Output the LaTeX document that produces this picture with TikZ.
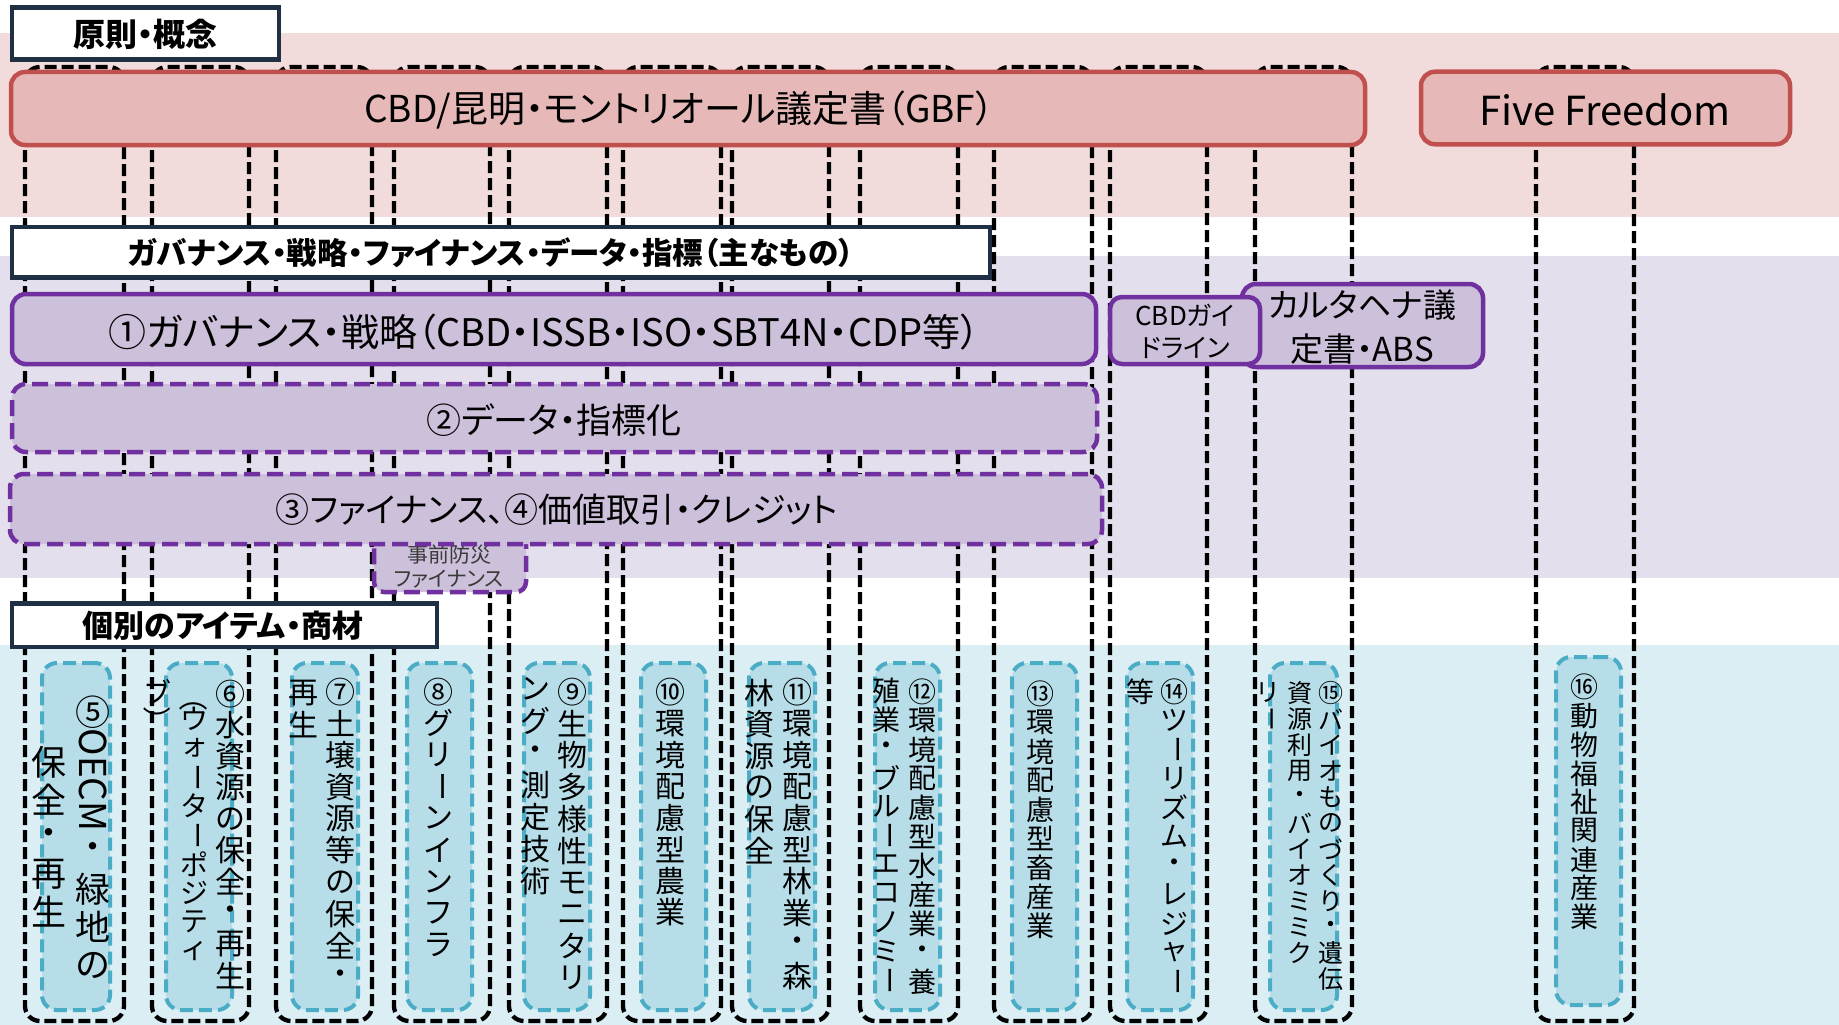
\documentclass[tikz,border=0pt]{standalone}
\usepackage{fontspec}
\usepackage{graphicx}
\setmainfont{Noto Sans CJK JP}[RawFeature=+palt]
\newfontfamily\vjp{Noto Sans CJK JP}
\XeTeXuseglyphmetrics=1
\definecolor{pinkbg}{HTML}{F2DCDB}
\definecolor{lavbg}{HTML}{E4DFEC}
\definecolor{bluebg}{HTML}{DAEEF3}
\definecolor{redline}{HTML}{C0504D}
\definecolor{redfill}{HTML}{E6B9B8}
\definecolor{purpline}{HTML}{7030A0}
\definecolor{purpfill}{HTML}{CCC0DA}
\definecolor{tealline}{HTML}{4BACC6}
\definecolor{tealfill}{HTML}{B7DEE8}
\definecolor{navy}{HTML}{1F3045}
\definecolor{darkgrey}{HTML}{3A3A3A}
\newcommand\VL{\rotatebox[origin=c]{-90}{ー}}
\newcommand\VLP{\rotatebox[origin=c]{-90}{（}}
\newcommand\VRP{\rotatebox[origin=c]{-90}{）}}
\newcommand\vtext[6]{%
  \foreach \ch [count=\k] in {#6}{%
    \node[vch, font=\vjp\fontsize{#5}{#5}\selectfont] (#1-\k) at (#2,{#3+(\k-0.5)*#4}) {\ch};
  }%
}
\tikzset{
  colframe/.style={draw=black, line width=4.3pt, dash pattern=on 12pt off 5pt, rounded corners=15pt},
  hdr/.style={draw=navy, line width=4.5pt, fill=white, inner sep=0pt},
  redbox/.style={draw=redline, line width=4.5pt, fill=redfill, rounded corners=14pt, inner sep=0pt},
  purbox/.style={draw=purpline, line width=4.5pt, fill=purpfill, rounded corners=14pt, inner sep=0pt},
  purdash/.style={purbox, dash pattern=on 16pt off 7pt},
  itembox/.style={draw=tealline, line width=4pt, fill=tealfill, rounded corners=15pt, dash pattern=on 13pt off 6pt, inner sep=0pt},
  lbl/.style={inner sep=0pt, text=black},
  vch/.style={inner sep=0pt, text=black, anchor=center},
}
\begin{document}
\begin{tikzpicture}[x=1pt,y=-1pt]
\useasboundingbox (0,0) rectangle (1839,1025);
\fill[white] (0,0) rectangle (1839,1025);
% background bands
\fill[pinkbg] (0,33) rectangle (1839,217);
\fill[lavbg] (0,256) rectangle (1839,578);
\fill[bluebg] (0,645) rectangle (1839,1025);
% column frames
\foreach \l/\r in {25/124,152/249,276/372,394/490,509/607,623/721,732/829,860/958,994/1092,1110/1207,1255/1352,1536/1634}
  \draw[colframe] (\l,67) rectangle (\r,1021);
% principle boxes
\node[hdr, minimum width=267pt, minimum height=52pt] (p0) at (145.5,33.5) {};
\node[lbl, font=\fontsize{32}{32}\selectfont\bfseries] (p0t) at (145.5,34) {原則・概念};
\node[redbox, minimum width=1354pt, minimum height=73pt] (cbd) at (688,108.5) {};
\node[lbl, font=\fontsize{37}{37}\selectfont] (cbdt) at (679,110) {CBD/昆明・モントリオール議定書（GBF）};
\node[redbox, minimum width=369pt, minimum height=72.5pt] (ff) at (1605.5,108) {};
\node[lbl, font=\fontsize{40}{40}\selectfont] (fft) at (1605,110) {Five Freedom};
% governance
\node[hdr, minimum width=978pt, minimum height=50.5pt] (h2) at (501,252) {};
\node[lbl, font=\fontsize{30.5}{30.5}\selectfont\bfseries] (h2t) at (491,253) {ガバナンス・戦略・ファイナンス・データ・指標（主なもの）};
\node[purbox, minimum width=1084pt, minimum height=70pt] (g1) at (554,329) {};
\node[lbl, font=\fontsize{38}{38}\selectfont] (g1t) at (544,332) {①ガバナンス・戦略（CBD・ISSB・ISO・SBT4N・CDP等）};
\node[purbox, minimum width=241pt, minimum height=83pt] (cart) at (1362.5,325.5) {};
\node[lbl, font=\fontsize{33}{44}\selectfont, align=center] (cartt) at (1362,327) {カルタヘナ議\\定書・ABS};
\node[purbox, rounded corners=12pt, minimum width=150pt, minimum height=67pt] (cgl) at (1185,330.5) {};
\node[lbl, font=\fontsize{26}{32}\selectfont, align=center] (cglt) at (1185,331) {CBDガイ\\ドライン};
\node[purdash, minimum width=1085pt, minimum height=68pt] (g2) at (554.5,418) {};
\node[lbl, font=\fontsize{35}{35}\selectfont] (g2t) at (554,420) {②データ・指標化};
\node[purdash, rounded corners=10pt, minimum width=152pt, minimum height=67pt] (jz) at (450,558.5) {};
\node[lbl, text=darkgrey, font=\fontsize{21}{24}\selectfont, align=center] (jzt) at (449,566) {事前防災\\ファイナンス};
\node[purdash, minimum width=1092pt, minimum height=70pt] (g3) at (556,509) {};
\node[lbl, font=\fontsize{34}{34}\selectfont] (g3t) at (557,510) {③ファイナンス、④価値取引・クレジット};
% items header
\node[hdr, minimum width=425pt, minimum height=43.5pt] (h3) at (224.5,625) {};
\node[lbl, font=\fontsize{31}{31}\selectfont\bfseries] (h3t) at (223,626) {個別のアイテム・商材};
% item boxes
\node[itembox, minimum width=68pt, minimum height=347pt] (i5) at (76,836.5) {};
\node[itembox, minimum width=66pt, minimum height=347pt] (i6) at (199,836.5) {};
\node[itembox, minimum width=66pt, minimum height=347pt] (i7) at (325,836.5) {};
\node[itembox, minimum width=65pt, minimum height=347pt] (i8) at (439.5,836.5) {};
\node[itembox, minimum width=66pt, minimum height=347pt] (i9) at (557,836.5) {};
\node[itembox, minimum width=65pt, minimum height=347pt] (i10) at (673.5,836.5) {};
\node[itembox, minimum width=66pt, minimum height=347pt] (i11) at (782,836.5) {};
\node[itembox, minimum width=65pt, minimum height=347pt] (i12) at (907.5,836.5) {};
\node[itembox, minimum width=65pt, minimum height=347pt] (i13) at (1044.5,836.5) {};
\node[itembox, minimum width=66pt, minimum height=347pt] (i14) at (1160,836.5) {};
\node[itembox, minimum width=67pt, minimum height=347pt] (i15) at (1303.5,836.5) {};
\node[itembox, minimum width=65pt, minimum height=348pt] (i16) at (1588.5,831) {};
% vertical texts
% 5
\node[vch, font=\vjp\fontsize{35}{35}\selectfont] (v5a) at (93,712) {⑤};
\node[vch, font=\vjp\fontsize{37}{37}\selectfont] (v5b) at (93,780) {\rotatebox[origin=c]{-90}{OECM}};
\vtext{v5c}{93}{832}{38}{35}{・,緑,地,の}
\vtext{v5d}{49}{743}{37.5}{35}{保,全,・,再,生}
% 6
\vtext{v6a}{230}{678}{31.3}{30}{⑥,水,資,源,の,保,全,・,再,生}
\node[vch, font=\vjp\fontsize{29}{29}\selectfont] (v6p) at (194,697) {\VLP};
\vtext{v6b}{194}{704.5}{29}{28}{ウ,ォ,\VL,タ,\VL,ポ,ジ,テ,ィ}
\vtext{v6c}{157}{677}{29}{28}{ブ,\VRP}
% 7
\vtext{v7a}{340}{676}{31.7}{30}{⑦,土,壌,資,源,等,の,保,全,・}
\vtext{v7b}{303}{677}{31.7}{30}{再,生}
% 8
\vtext{v8}{438}{676}{31.6}{30}{⑧,グ,リ,\VL,ン,イ,ン,フ,ラ}
% 9
\vtext{v9a}{572}{676}{31.8}{30}{⑨,生,物,多,様,性,モ,ニ,タ,リ}
\vtext{v9b}{535}{673}{32}{30}{ン,グ,・,測,定,技,術}
% 10
\vtext{v10}{670}{676}{31.5}{30}{⑩,環,境,配,慮,型,農,業}
% 11
\vtext{v11a}{797}{676}{31.6}{30}{⑪,環,境,配,慮,型,林,業,・,森}
\vtext{v11b}{759}{677}{31.6}{30}{林,資,源,の,保,全}
% 12
\vtext{v12a}{922}{677}{29}{28}{⑫,環,境,配,慮,型,水,産,業,・,養}
\vtext{v12b}{886}{676}{29}{28}{殖,業,・,ブ,ル,\VL,エ,コ,ノ,ミ,\VL}
% 13
\vtext{v13}{1040}{679}{29}{28}{⑬,環,境,配,慮,型,畜,産,業}
% 14
\vtext{v14a}{1174}{677}{29}{28}{⑭,ツ,\VL,リ,ズ,ム,・,レ,ジ,ャ,\VL}
\vtext{v14b}{1140}{677}{29}{28}{等}
% 15
\vtext{v15a}{1331}{680}{26}{25}{⑮,バ,イ,オ,も,の,づ,く,り,・,遺,伝}
\vtext{v15b}{1300}{680}{26}{25}{資,源,利,用,・,バ,イ,オ,ミ,ミ,ク}
\vtext{v15c}{1268}{680}{26}{25}{リ,\VL}
% 16
\vtext{v16}{1584}{673}{28.7}{28}{⑯,動,物,福,祉,関,連,産,業}
\end{tikzpicture}
\end{document}
